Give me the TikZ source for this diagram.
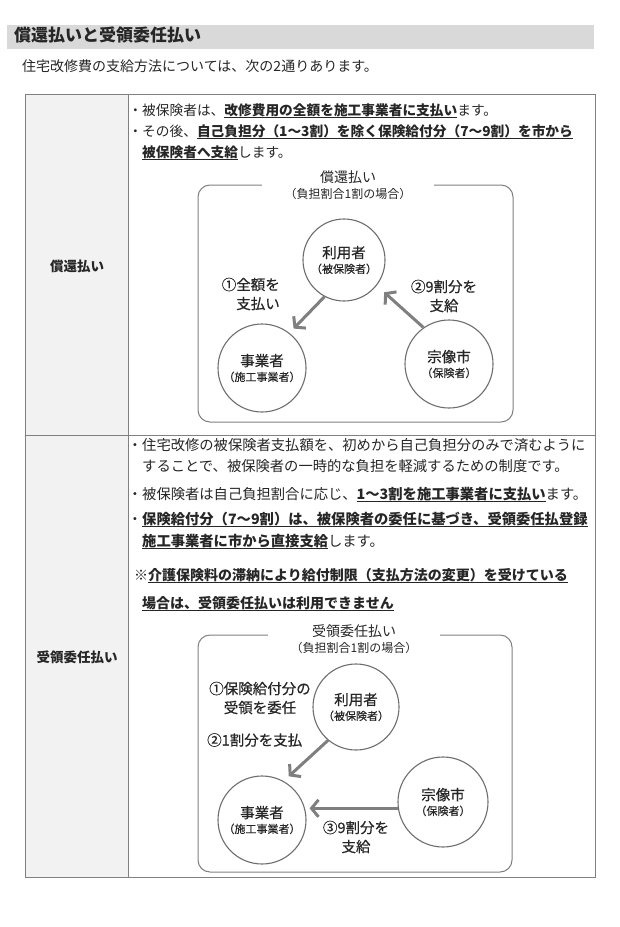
\documentclass[tikz,border=0pt]{standalone}
\usepackage{fontspec}
\setmainfont{Noto Sans CJK JP}
\newfontfamily\midfont[FakeBold=0.5]{Noto Sans CJK JP}
\usepackage{tikz}
\usetikzlibrary{arrows.meta,positioning}
\definecolor{ink}{HTML}{262626}
\definecolor{rulegray}{HTML}{808080}
\definecolor{bargray}{HTML}{D9D9D9}
\definecolor{cellgray}{HTML}{F2F2F2}
\definecolor{flowgray}{HTML}{7F7F7F}
\definecolor{ringgray}{HTML}{6E6E6E}
\newsavebox\ulbox
\newcommand\ulb[1]{\sbox\ulbox{\bfseries #1}\rlap{\rule[-3pt]{\wd\ulbox}{1pt}}\usebox\ulbox}
\newcommand\subsize{\fontsize{11}{14}\selectfont}

\begin{document}
\begin{tikzpicture}[x=1pt, y=-1pt,
  txt/.style={anchor=west, inner sep=0pt, text height=11pt, text depth=3pt,
    font=\fontsize{14}{16}\selectfont, text=ink},
  wide/.style={font=\fontsize{14.3}{16}\selectfont},
  narrow/.style={font=\fontsize{13.7}{16}\selectfont},
  rowhead/.style={inner sep=0pt, font=\fontsize{13.5}{16}\selectfont\bfseries, text=ink},
  party/.style={circle, draw=ringgray, line width=1.1pt, fill=white,
    minimum size=88pt, inner sep=0pt, align=center,
    font=\fontsize{14.5}{19}\selectfont\midfont, text=ink},
  flow/.style={-{Straight Barb[length=7pt,width=17pt]}, line width=3pt, draw=flowgray},
  panel/.style={draw=rulegray, line width=1pt, rounded corners=12pt},
  paneltitle/.style={fill=white, align=center, inner sep=0pt, minimum width=172pt,
    font=\fontsize{14}{16}\selectfont, text=ink},
  note/.style={align=center, inner sep=0pt, font=\fontsize{14.5}{19}\selectfont\midfont, text=ink}
]
\useasboundingbox (0,0) rectangle (619,927);
\fill[white] (0,0) rectangle (619,927);

\fill[bargray] (7,25) rectangle (594,49);
\node[txt, font=\fontsize{17}{20}\selectfont\bfseries] (title) at (14,37) {償還払いと受領委任払い};
\node[txt, font=\fontsize{14}{16}\selectfont] (lead) at (22,67) {住宅改修費の支給方法については、次の2通りあります。};

\fill[cellgray] (25,94) rectangle (128,877);
\draw[rulegray, line width=0.8pt] (25,94) rectangle (595,877);
\draw[rulegray, line width=0.8pt] (128,94) -- (128,877);
\draw[rulegray, line width=0.8pt] (25,435) -- (595,435);

\node[rowhead] (head1) at (77,266) {償還払い};
\node[rowhead] (head2) at (77,657) {受領委任払い};

\node[txt, narrow] (t11) at (142,111) {\llap{・}被保険者は、\ulb{改修費用の全額を施工事業者に支払い}ます。};
\node[txt, narrow] (t12) at (142,132) {\llap{・}その後、\ulb{自己負担分（1～3割）を除く保険給付分（7～9割）を市から}};
\node[txt, narrow] (t13) at (142,153) {\ulb{被保険者へ支給}します。};

\node[txt, wide] (t21) at (142,446) {\llap{・}住宅改修の被保険者支払額を、初めから自己負担分のみで済むように};
\node[txt, wide] (t22) at (142,467) {することで、被保険者の一時的な負担を軽減するための制度です。};
\node[txt, wide] (t23) at (142,495) {\llap{・}被保険者は自己負担割合に応じ、\ulb{1～3割を施工事業者に支払い}ます。};
\node[txt, wide] (t24) at (142,520) {\llap{・}\ulb{保険給付分（7～9割）は、被保険者の委任に基づき、受領委任払登録}};
\node[txt, wide] (t25) at (142,542) {\ulb{施工事業者に市から直接支給}します。};
\node[txt] (t26) at (134,576) {※\ulb{介護保険料の滞納により給付制限（支払方法の変更）を受けている}};
\node[txt] (t27) at (142,604) {\ulb{場合は、受領委任払いは利用できません}};

\draw[panel] (198,185) rectangle (513,422);
\node[paneltitle] (title1) at (348,185) {償還払い\\{\fontsize{12}{14}\selectfont（負担割合1割の場合）}};
\node[party, minimum size=82pt] (user1) at (344,260) {利用者\\[-4pt]{\subsize（被保険者）}};
\node[party] (biz1) at (262,368) {事業者\\[-4pt]{\subsize（施工事業者）}};
\node[party] (muni1) at (449,364) {宗像市\\[-4pt]{\subsize（保険者）}};
\draw[flow, shorten >=6pt] (user1.242) -- (biz1.52);
\draw[flow, shorten >=10pt] (muni1.125) -- (user1.322);
\node[note, anchor=east, align=right] (lab11) at (280,294) {①全額を\\支払い};
\node[note] (lab12) at (444,296) {②9割分を\\支給};

\draw[panel] (198,635) rectangle (512,872);
\node[paneltitle] (title2) at (354,639) {受領委任払い\\{\fontsize{12}{14}\selectfont（負担割合1割の場合）}};
\node[party, minimum size=86pt] (user2) at (356,707) {利用者\\[-4pt]{\subsize（被保険者）}};
\node[party] (biz2) at (262,820) {事業者\\[-4pt]{\subsize（施工事業者）}};
\node[party, minimum size=90pt] (muni2) at (443,802) {宗像市\\[-4pt]{\subsize（保険者）}};
\draw[flow, shorten >=7pt] (user2.230) -- (biz2.61);
\draw[flow, shorten >=3pt] (muni2.188) -- (muni2.188 -| biz2.east);
\node[note] (lab21) at (260,698) {①保険給付分の\\受領を委任};
\node[note, anchor=west] (lab22) at (207,740) {②1割分を支払};
\node[note] (lab23) at (356,837) {③9割分を\\支給};
\end{tikzpicture}
\end{document}
